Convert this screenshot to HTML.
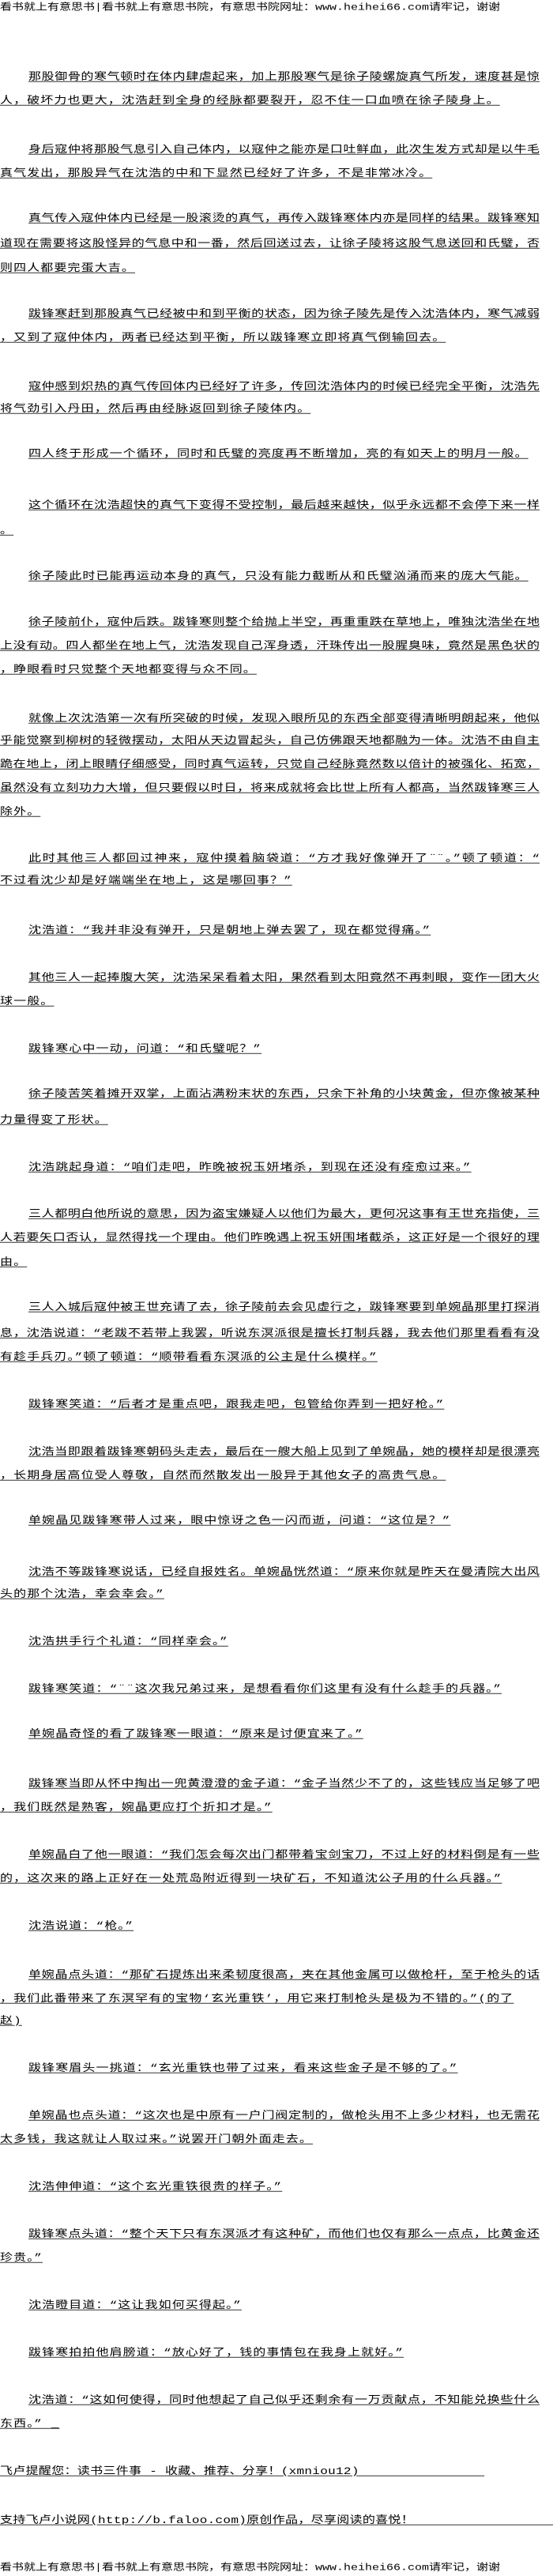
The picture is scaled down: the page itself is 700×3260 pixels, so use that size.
<!DOCTYPE html>
<html><head><meta charset="utf-8">
<style>
html,body{margin:0;padding:0;background:#fff;}
body{width:700px;height:3260px;position:relative;overflow:hidden;}
.l{position:absolute;left:0;right:0;overflow:hidden;white-space:nowrap;font-size:16px;font-family:"Liberation Mono","Noto Sans CJK SC",sans-serif;letter-spacing:1.1px;text-decoration:underline;text-underline-offset:2px;line-height:20px;height:20px;color:#000;transform:scaleY(.8);transform-origin:0 50%;}
.i{left:36px;}
.f{right:auto;width:683px;text-align:justify;text-align-last:justify;letter-spacing:0;}
.i.f{width:647px;}
.h{text-decoration:none;letter-spacing:0;font-size:15px;}
</style></head><body>
<div class="l h" style="top:0px">看书就上有意思书|看书就上有意思书院，有意思书院网址：www.heihei66.com请牢记，谢谢</div>

<div class="l i f" style="top:88px">那股御骨的寒气顿时在体内肆虐起来，加上那股寒气是徐子陵螺旋真气所发，速度甚是惊</div>
<div class="l" style="top:118px">人，破坏力也更大，沈浩赶到全身的经脉都要裂开，忍不住一口血喷在徐子陵身上。</div>

<div class="l i f" style="top:180px">身后寇仲将那股气息引入自己体内，以寇仲之能亦是口吐鲜血，此次生发方式却是以牛毛</div>
<div class="l" style="top:210px">真气发出，那股异气在沈浩的中和下显然已经好了许多，不是非常冰冷。</div>

<div class="l i f" style="top:267px">真气传入寇仲体内已经是一股滚烫的真气，再传入跋锋寒体内亦是同样的结果。跋锋寒知</div>
<div class="l f" style="top:299px">道现在需要将这股怪异的气息中和一番，然后回送过去，让徐子陵将这股气息送回和氏璧，否</div>
<div class="l" style="top:330px">则四人都要完蛋大吉。</div>

<div class="l i f" style="top:388px">跋锋寒赶到那股真气已经被中和到平衡的状态，因为徐子陵先是传入沈浩体内，寒气减弱</div>
<div class="l" style="top:418px">，又到了寇仲体内，两者已经达到平衡，所以跋锋寒立即将真气倒输回去。</div>

<div class="l i f" style="top:480px">寇仲感到炽热的真气传回体内已经好了许多，传回沈浩体内的时候已经完全平衡，沈浩先</div>
<div class="l" style="top:508px">将气劲引入丹田，然后再由经脉返回到徐子陵体内。</div>

<div class="l i" style="top:565px">四人终于形成一个循环，同时和氏璧的亮度再不断增加，亮的有如天上的明月一般。</div>

<div class="l i f" style="top:630px">这个循环在沈浩超快的真气下变得不受控制，最后越来越快，似乎永远都不会停下来一样</div>
<div class="l" style="top:662px">。</div>

<div class="l i" style="top:720px">徐子陵此时已能再运动本身的真气，只没有能力截断从和氏璧汹涌而来的庞大气能。</div>

<div class="l i f" style="top:778px">徐子陵前仆，寇仲后跌。跋锋寒则整个给抛上半空，再重重跌在草地上，唯独沈浩坐在地</div>
<div class="l f" style="top:808px">上没有动。四人都坐在地上气，沈浩发现自己浑身透，汗珠传出一股腥臭味，竟然是黑色状的</div>
<div class="l" style="top:838px">，睁眼看时只觉整个天地都变得与众不同。</div>

<div class="l i f" style="top:900px">就像上次沈浩第一次有所突破的时候，发现入眼所见的东西全部变得清晰明朗起来，他似</div>
<div class="l f" style="top:928px">乎能觉察到柳树的轻微摆动，太阳从天边冒起头，自己仿佛跟天地都融为一体。沈浩不由自主</div>
<div class="l f" style="top:958px">跪在地上，闭上眼睛仔细感受，同时真气运转，只觉自己经脉竟然数以倍计的被强化、拓宽，</div>
<div class="l f" style="top:988px">虽然没有立刻功力大增，但只要假以时日，将来成就将会比世上所有人都高，当然跋锋寒三人</div>
<div class="l" style="top:1018px">除外。</div>

<div class="l i f" style="top:1077px">此时其他三人都回过神来，寇仲摸着脑袋道：“方才我好像弹开了¨¨。”顿了顿道：“</div>
<div class="l" style="top:1105px">不过看沈少却是好端端坐在地上，这是哪回事？”</div>

<div class="l i" style="top:1168px">沈浩道：“我并非没有弹开，只是朝地上弹去罢了，现在都觉得痛。”</div>

<div class="l i f" style="top:1228px">其他三人一起捧腹大笑，沈浩呆呆看着太阳，果然看到太阳竟然不再刺眼，变作一团大火</div>
<div class="l" style="top:1258px">球一般。</div>

<div class="l i" style="top:1318px">跋锋寒心中一动，问道：“和氏璧呢？”</div>

<div class="l i f" style="top:1375px">徐子陵苦笑着摊开双掌，上面沾满粉末状的东西，只余下补角的小块黄金，但亦像被某种</div>
<div class="l" style="top:1408px">力量得变了形状。</div>

<div class="l i" style="top:1468px">沈浩跳起身道：“咱们走吧，昨晚被祝玉妍堵杀，到现在还没有痊愈过来。”</div>

<div class="l i f" style="top:1527px">三人都明白他所说的意思，因为盗宝嫌疑人以他们为最大，更何况这事有王世充指使，三</div>
<div class="l f" style="top:1557px">人若要矢口否认，显然得找一个理由。他们昨晚遇上祝玉妍围堵截杀，这正好是一个很好的理</div>
<div class="l" style="top:1588px">由。</div>

<div class="l i f" style="top:1645px">三人入城后寇仲被王世充请了去，徐子陵前去会见虚行之，跋锋寒要到单婉晶那里打探消</div>
<div class="l f" style="top:1678px">息，沈浩说道：“老跋不若带上我罢，听说东溟派很是擅长打制兵器，我去他们那里看看有没</div>
<div class="l" style="top:1708px">有趁手兵刃。”顿了顿道：“顺带看看东溟派的公主是什么模样。”</div>

<div class="l i" style="top:1768px">跋锋寒笑道：“后者才是重点吧，跟我走吧，包管给你弄到一把好枪。”</div>

<div class="l i f" style="top:1828px">沈浩当即跟着跋锋寒朝码头走去，最后在一艘大船上见到了单婉晶，她的模样却是很漂亮</div>
<div class="l" style="top:1858px">，长期身居高位受人尊敬，自然而然散发出一股异于其他女子的高贵气息。</div>

<div class="l i" style="top:1915px">单婉晶见跋锋寒带人过来，眼中惊讶之色一闪而逝，问道：“这位是？”</div>

<div class="l i f" style="top:1980px">沈浩不等跋锋寒说话，已经自报姓名。单婉晶恍然道：“原来你就是昨天在曼清院大出风</div>
<div class="l" style="top:2008px">头的那个沈浩，幸会幸会。”</div>

<div class="l i" style="top:2068px">沈浩拱手行个礼道：“同样幸会。”</div>

<div class="l i" style="top:2128px">跋锋寒笑道：“¨¨这次我兄弟过来，是想看看你们这里有没有什么趁手的兵器。”</div>

<div class="l i" style="top:2185px">单婉晶奇怪的看了跋锋寒一眼道：“原来是讨便宜来了。”</div>

<div class="l i f" style="top:2248px">跋锋寒当即从怀中掏出一兜黄澄澄的金子道：“金子当然少不了的，这些钱应当足够了吧</div>
<div class="l" style="top:2278px">，我们既然是熟客，婉晶更应打个折扣才是。”</div>

<div class="l i f" style="top:2338px">单婉晶白了他一眼道：“我们怎会每次出门都带着宝剑宝刀，不过上好的材料倒是有一些</div>
<div class="l" style="top:2368px">的，这次来的路上正好在一处荒岛附近得到一块矿石，不知道沈公子用的什么兵器。”</div>

<div class="l i" style="top:2428px">沈浩说道：“枪。”</div>

<div class="l i f" style="top:2490px">单婉晶点头道：“那矿石提炼出来柔韧度很高，夹在其他金属可以做枪杆，至于枪头的话</div>
<div class="l" style="top:2520px">，我们此番带来了东溟罕有的宝物‘玄光重铁’，用它来打制枪头是极为不错的。”(的了</div>
<div class="l" style="top:2548px">赵)</div>

<div class="l i" style="top:2608px">跋锋寒眉头一挑道：“玄光重铁也带了过来，看来这些金子是不够的了。”</div>

<div class="l i f" style="top:2668px">单婉晶也点头道：“这次也是中原有一户门阀定制的，做枪头用不上多少材料，也无需花</div>
<div class="l" style="top:2698px">太多钱，我这就让人取过来。”说罢开门朝外面走去。</div>

<div class="l i" style="top:2758px">沈浩伸伸道：“这个玄光重铁很贵的样子。”</div>

<div class="l i f" style="top:2818px">跋锋寒点头道：“整个天下只有东溟派才有这种矿，而他们也仅有那么一点点，比黄金还</div>
<div class="l" style="top:2848px">珍贵。”</div>

<div class="l i" style="top:2908px">沈浩瞪目道：“这让我如何买得起。”</div>

<div class="l i" style="top:2968px">跋锋寒拍拍他肩膀道：“放心好了，钱的事情包在我身上就好。”</div>

<div class="l i f" style="top:3028px">沈浩道：“这如何使得，同时他想起了自己似乎还剩余有一万贡献点，不知能兑换些什么</div>
<div class="l" style="top:3058px">东西。”&nbsp;_</div>

<div class="l" style="top:3118px;letter-spacing:0.3px">飞卢提醒您：读书三件事 - 收藏、推荐、分享！(xmniou12)&nbsp;&nbsp;&nbsp;&nbsp;&nbsp;&nbsp;&nbsp;&nbsp;&nbsp;&nbsp;&nbsp;&nbsp;&nbsp;&nbsp;&nbsp;&nbsp;</div>
<div class="l" style="top:3180px;letter-spacing:0.3px">支持飞卢小说网(http://b.faloo.com)原创作品，尽享阅读的喜悦！&nbsp;&nbsp;&nbsp;&nbsp;&nbsp;&nbsp;&nbsp;&nbsp;&nbsp;&nbsp;&nbsp;&nbsp;&nbsp;&nbsp;&nbsp;&nbsp;&nbsp;&nbsp;&nbsp;&nbsp;&nbsp;&nbsp;</div>

<div class="l h" style="top:3240px">看书就上有意思书|看书就上有意思书院，有意思书院网址：www.heihei66.com请牢记，谢谢</div>
</body></html>
